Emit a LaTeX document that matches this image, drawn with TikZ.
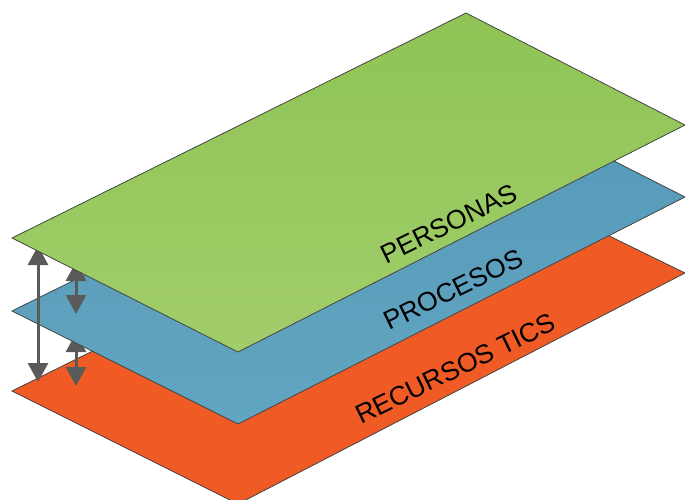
\documentclass[tikz,border=0pt]{standalone}
\usepackage{fontspec}
\setmainfont{Liberation Sans}
\usetikzlibrary{arrows.meta}
\definecolor{edgec}{HTML}{444444}
\definecolor{arrowc}{HTML}{5A5A5A}
\tikzset{
  layer/.style={draw=edgec,line width=0.8pt,line join=miter},
  dbl/.style={draw=arrowc,line width=3pt,{Triangle[width=20pt,length=19pt]}-{Triangle[width=20pt,length=19pt]}},
  lbl/.style={font=\fontsize{26.6}{27}\selectfont,rotate=26,inner sep=0pt,text=black}
}
\begin{document}
\begin{tikzpicture}[x=1pt,y=-1pt]
\useasboundingbox (0,0) rectangle (685,499);
\clip (0,0) rectangle (685,499);
% coordinates
\coordinate (gL) at (12,238); \coordinate (gT) at (466,13); \coordinate (gR) at (685,125); \coordinate (gB) at (238,352);
\coordinate (bL) at (12,311); \coordinate (bT) at (466,86); \coordinate (bR) at (685,197); \coordinate (bB) at (238,424);
\coordinate (rL) at (12,391); \coordinate (rT) at (466,166); \coordinate (rR) at (685,273); \coordinate (rB) at (238,504);
\coordinate (a1t) at (38,246); \coordinate (a1b) at (38,382);
\coordinate (a2t) at (76,262); \coordinate (a2b) at (76,314);
\coordinate (a3t) at (76,333); \coordinate (a3b) at (76,386);
% red layer
\path[layer,fill={rgb,255:red,240;green,90;blue,37}] (rL) -- (rT) -- (rR) -- (rB) -- cycle;
\draw[dbl] (a3t) -- (a3b);
% blue layer
\path[layer,top color={rgb,255:red,84;green,153;blue,185},bottom color={rgb,255:red,98;green,165;blue,192}] (bL) -- (bT) -- (bR) -- (bB) -- cycle;
\draw[dbl] (a2t) -- (a2b);
\draw[dbl] (a1t) -- (a1b);
% green layer
\path[layer,top color={rgb,255:red,143;green,196;blue,85},bottom color={rgb,255:red,161;green,205;blue,106}] (gL) -- (gT) -- (gR) -- (gB) -- cycle;
% labels
\node[lbl] (personas) at (449,223.5) {PERSONAS};
\node[lbl] (procesos) at (453.5,289.5) {PROCESOS};
\node[lbl] (recursos) at (455.5,368.5) {RECURSOS TICS};
\end{tikzpicture}
\end{document}
